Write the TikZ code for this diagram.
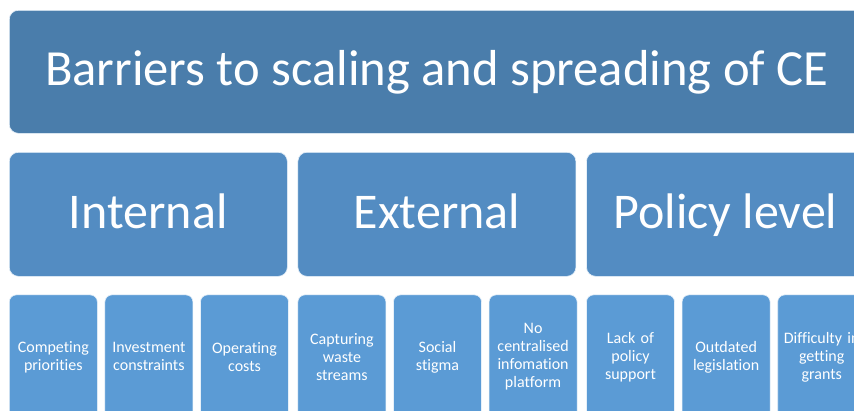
\documentclass[tikz,border=0pt]{standalone}
\usepackage{fontspec}
\setmainfont[Ligatures=NoCommon]{Carlito}
\usetikzlibrary{positioning}

\definecolor{titleblue}{RGB}{74,125,171}
\definecolor{catblue}{RGB}{83,140,194}
\definecolor{itemblue}{RGB}{91,155,213}

\begin{document}
\begin{tikzpicture}[x=1pt, y=-1pt,
    box/.style={rounded corners=9pt, draw=white!85!itemblue, line width=0.6pt, text=white, align=center, inner sep=0pt},
    title/.style={box, fill=titleblue, minimum width=855pt, minimum height=123pt, text height=36pt, text depth=8pt, font=\fontsize{50.6}{60}\selectfont},
    category/.style={box, fill=catblue, minimum width=278pt, minimum height=124pt, text height=36pt, text depth=8pt, font=\fontsize{50}{60}\selectfont},
    item/.style={box, rounded corners=7pt, fill=itemblue, minimum width=88pt, minimum height=124pt, text width=86pt, font=\fontsize{16}{18}\selectfont}
]
\useasboundingbox[clip] (0,0) rectangle (854,410);
\fill[white] (0,0) rectangle (854,410);

% Heading
\node[title, anchor=north west] (barriers) at (9,10) {Barriers to scaling and spreading of CE};

% Categories
\node[category, anchor=north west] (internal) at (9,152) {Internal};
\node[category, right=10pt of internal] (external) {External};
\node[category, right=10pt of external] (policy) {Policy level};

% Internal barriers
\node[item, below=18pt of internal.south west, anchor=north west] (competing) {Competing\\priorities};
\node[item, right=7pt of competing] (investment) {Investment\\constraints};
\node[item, right=7pt of investment] (operating) {Operating\\costs};

% External barriers
\node[item, below=18pt of external.south west, anchor=north west] (capturing) {Capturing\\waste\\streams};
\node[item, right=7pt of capturing] (stigma) {Social\\stigma};
\node[item, right=7pt of stigma] (platform) {No\\centralised\\infomation\\platform};

% Policy barriers
\node[item, below=18pt of policy.south west, anchor=north west] (support) {Lack of\\policy\\support};
\node[item, right=7pt of support] (legislation) {Outdated\\legislation};
\node[item, right=7pt of legislation] (grants) {Difficulty in\\getting\\grants};

\end{tikzpicture}
\end{document}
